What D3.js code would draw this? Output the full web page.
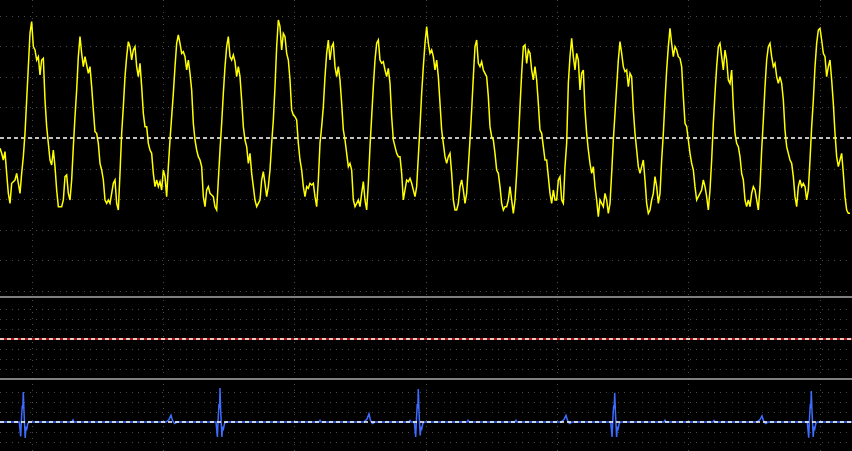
<!DOCTYPE html>
<html><head><meta charset="utf-8">
<script src="https://cdn.jsdelivr.net/npm/d3@7/dist/d3.min.js"></script>
<style>html,body{margin:0;padding:0;background:#000;overflow:hidden}</style>
</head><body>
<svg id="c" width="852" height="451"></svg>
<script>
// ---- DATA ----
// Channel 1 (yellow) pressure-like trace, ADC counts, sampled at 60 Hz (three consecutive segments)
const pressSeg1 = [
255,240,220,245,180,120,90,150,155,160,
180,150,120,180,230,300,400,500,600,635,
560,550,520,530,475,520,525,400,320,270,
220,205,250,200,130,80,80,80,100,170,
175,120,100,160,260,350,430,530,590,540,
500,530,505,480,500,440,370,305,300,270,
210,190,160,100,90,100,90,120,150,160,
90,70,180,300,380,470,530,575,560,520,
550,560,500,470,510,440,360,320,320,270,
250,240,180,140,160,140,155,130,190,170,
110,200,280,350,420,500,570,595,570,540,
545,530,490,520,480,430,330,280,250,230,
220,200,110,80,130,140,120,115,110,80,
70,160,250,330,420,500,560,590,530,520,
535,515,470,500,470,400,320,280,260,210,
240,180,140,100,80,90,100,160,185,150,
110,140,190,270,340,440,560,640,620,550];
const pressSeg2 = [
600,590,540,520,460,370,355,350,340,270,
220,190,140,110,140,135,150,145,150,110,
80,160,270,320,380,470,540,580,520,560,
570,500,470,500,460,390,310,280,240,200,
210,190,100,80,90,100,80,120,155,100,
70,150,260,350,440,520,570,580,520,510,
515,490,470,495,450,350,280,260,240,230,
230,180,100,130,160,155,165,150,130,110,
140,230,320,420,500,570,620,570,540,550,
530,490,520,470,390,310,270,230,210,230,
240,180,100,70,70,90,140,160,130,90,
120,200,280,370,470,560,580,510,500,515,
490,480,470,410,320,290,280,240,190,180,
140,90,70,80,80,100,140,100,60,100,
180,270,380,480,560,565,510,550,540,490,
460,500,460,390,310,300,260,220,220,170,
120,90,130,100,100,160,170,100,90,200];
const pressSeg3 = [
270,450,530,585,530,490,540,520,430,480,
490,370,300,250,210,180,200,140,100,50,
100,90,80,120,100,60,90,180,280,360,
440,520,575,540,500,485,490,440,480,470,
370,300,250,200,180,200,220,160,90,60,
70,100,120,170,140,90,120,220,300,400,
490,560,615,570,530,560,550,530,525,500,
410,330,320,280,240,210,190,140,100,110,
120,130,160,140,110,70,130,220,330,420,
500,560,570,530,490,550,520,460,450,490,
380,300,270,260,230,180,160,100,80,100,
80,120,140,130,100,70,140,250,340,440,
520,560,570,530,500,510,470,450,470,450,
400,310,260,240,220,210,170,110,80,140,
160,140,150,140,100,130,220,320,400,500,
570,610,615,580,540,530,470,500,520,460,
390,300,230,200,220,240,180,110,70,60,
60];
const pressRate = 60;          // samples per second
const pressRef = 286;          // reference (dashed) level, counts

// Channel 2 (red) flat trace, mV
const redTime  = [0, 8520];
const redValue = [0, 0];

// Channel 3 (blue) ECG trace: breakpoints, time in ms, value in mV
const ecgTime = [
0,193,207,216,223,228,233,240,252,260,268,278,293,
720,730,740,
1660,1690,1710,1725,1745,1770,
2160,2174,2183,2190,2195,2200,2207,2219,2227,2235,2245,2260,
3190,3200,3210,
3640,3670,3690,3705,3725,3750,
4090,4100,4110,
4143,4157,4166,4173,4178,4183,4190,4202,4210,4218,4228,4243,
4670,4680,4690,
5150,5160,5170,
5610,5640,5660,5675,5695,5720,
6107,6121,6130,6137,6142,6147,6154,6166,6174,6182,6192,6207,
6640,6650,6660,
7130,7140,7150,
7570,7600,7620,7635,7655,7680,
8073,8087,8096,8103,8108,8113,8120,8132,8140,8148,8158,8173,
8520];
const ecgValue = [
0,0,-0.48,0.2,0.55,0.45,1.0,0.35,-0.53,-0.15,-0.22,-0.05,0,
0,0.07,0,
0,0.08,0.23,0.05,-0.05,0,
0,-0.5,0.2,0.6,0.45,1.13,0.35,-0.5,-0.15,-0.22,-0.05,0,
0,0.06,0,
0,0.1,0.27,0.05,-0.05,0,
0,0.05,0,
0,-0.5,0.2,0.6,0.45,1.1,0.35,-0.45,-0.15,-0.22,-0.05,0,
0,0.06,0,
0,0.06,0,
0,0.08,0.22,0.05,-0.05,0,
0,-0.5,0.2,0.55,0.45,0.97,0.35,-0.5,-0.15,-0.22,-0.05,0,
0,0.06,0,
0,0.05,0,
0,0.08,0.2,0.04,-0.05,0,
0,-0.52,0.2,0.6,0.45,1.03,0.35,-0.5,-0.15,-0.22,-0.05,0,
0];

// ---- CHART ----
const W = 852, H = 451;
const svg = d3.select('#c');
svg.append('rect').attr('width', W).attr('height', H).attr('fill', '#000');

const x = d3.scaleLinear().domain([0, 8520]).range([0, 852]);
const yTop = d3.scaleLinear().domain([0, 700]).range([233.33, 0]);
const yMid = d3.scaleLinear().domain([-4, 4]).range([379, 299]);
const yEcg = d3.scaleLinear().domain([0, 1]).range([422, 392]);

const sepTop = 297, sepBot = 379;

// grid
const grid = svg.append('g').attr('stroke', '#4a4a4a').attr('stroke-width', 1)
  .attr('stroke-dasharray', '1,5');
const refTopY = yTop(pressRef);
const hLines = [];
d3.range(-4, 6).forEach(k => { if (k !== 0) hLines.push(refTopY + k * 30.6); });
const refMidY = yMid(0);
d3.range(-3, 4).forEach(k => { if (k !== 0) hLines.push(refMidY + k * 9.9); });
const refEcgY = yEcg(0);
d3.range(-3, 4).forEach(k => { if (k !== 0) hLines.push(refEcgY + k * 9.9); });
hLines.forEach(yy => grid.append('line').attr('x1', 0).attr('x2', W)
  .attr('y1', Math.round(yy) + 0.5).attr('y2', Math.round(yy) + 0.5));
d3.range(0, 7).forEach(k => {
  const xx = Math.round(31.7 + k * 131.3) + 0.5;
  grid.append('line').attr('x1', xx).attr('x2', xx).attr('y1', 0).attr('y2', H);
});

// separators
[sepTop, sepBot].forEach(yy => svg.append('line').attr('x1', 0).attr('x2', W)
  .attr('y1', yy).attr('y2', yy).attr('stroke', '#a8a8a8').attr('stroke-width', 1.5));

// channel 1 reference dashed line
svg.append('line').attr('x1', 0).attr('x2', W).attr('y1', refTopY).attr('y2', refTopY)
  .attr('stroke', '#ffffff').attr('stroke-width', 1.3).attr('stroke-dasharray', '4,3');

// channel 1 trace
const press = pressSeg1.concat(pressSeg2, pressSeg3)
  .map((v, i) => ({ t: i * 1000 / pressRate, v }));
svg.append('path').datum(press)
  .attr('d', d3.line().x(d => x(d.t)).y(d => yTop(d.v)))
  .attr('fill', 'none').attr('stroke', '#ffff00').attr('stroke-width', 1.5)
  .attr('stroke-linejoin', 'miter');

// channel 2 trace + ref
const red = redTime.map((t, i) => ({ t, v: redValue[i] }));
svg.append('path').datum(red)
  .attr('d', d3.line().x(d => x(d.t)).y(d => yMid(d.v)))
  .attr('fill', 'none').attr('stroke', '#b01818').attr('stroke-width', 2);
svg.append('line').attr('x1', 0).attr('x2', W).attr('y1', refMidY).attr('y2', refMidY)
  .attr('stroke', '#ffffff').attr('stroke-width', 1.3).attr('stroke-dasharray', '4,3');

// channel 3 trace + ref
const ecg = ecgTime.map((t, i) => ({ t, v: ecgValue[i] }));
svg.append('path').datum(ecg)
  .attr('d', d3.line().x(d => x(d.t)).y(d => yEcg(d.v)))
  .attr('fill', 'none').attr('stroke', '#3d6cff').attr('stroke-width', 1.5);
svg.append('line').attr('x1', 0).attr('x2', W).attr('y1', refEcgY).attr('y2', refEcgY)
  .attr('stroke', '#ffffff').attr('stroke-width', 1.3).attr('stroke-dasharray', '4,3');
</script>
</body></html>
